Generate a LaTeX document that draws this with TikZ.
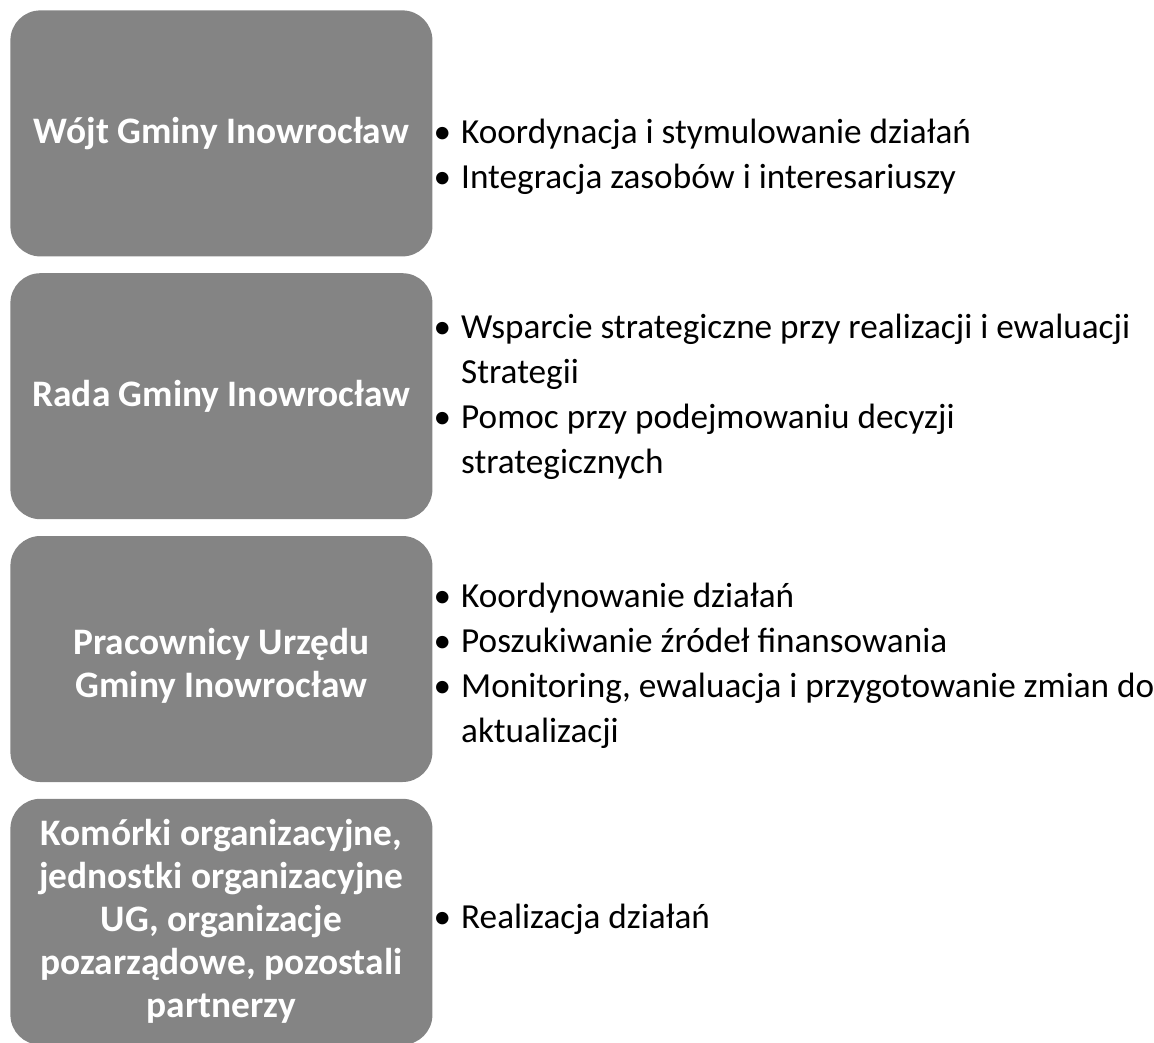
\documentclass[tikz,border=0pt]{standalone}
\usepackage{fontspec}
\setmainfont{Carlito}
\usepackage{enumitem}
\usetikzlibrary{positioning}

\definecolor{szary}{RGB}{132,132,132}
\tikzset{
  every node/.append style={execute at begin node=\spaceskip\fontdimen2\font\xspaceskip\fontdimen2\font\relax},
  blok/.style={fill=szary, rounded corners=15pt, minimum width=211pt, minimum height=123pt,
    text width=200pt, align=center, text=white, inner sep=0pt,
    font=\fontsize{18.7}{21.5}\selectfont\bfseries},
  opis/.style={anchor=west, text width=365pt, inner sep=0pt, align=left,
    font=\fontsize{17.6}{22.5}\selectfont}
}
\newcommand\punkty[1]{%
  \begin{itemize}[leftmargin=14pt,labelsep=5pt,label=\textbullet,
    itemsep=0pt,topsep=0pt,parsep=0pt,partopsep=0pt]#1\end{itemize}}

\begin{document}
\begin{tikzpicture}
\useasboundingbox (0,0) rectangle (577pt,-521pt);

% bloki po lewej
\node[blok, anchor=north west] (wojt) at (5pt,-5pt) {Wójt Gminy Inowrocław};
\node[blok, below=8pt of wojt] (rada) {Rada Gminy Inowrocław};
\node[blok, below=8pt of rada] (pracownicy) {\rule{0pt}{20pt}Pracownicy Urzędu\\Gminy Inowrocław};
\node[blok, below=8pt of pracownicy] (komorki) {Komórki organizacyjne,\\jednostki organizacyjne\\UG, organizacje\\pozarządowe, pozostali\\partnerzy};

% zadania po prawej
\node[opis, right=0pt of wojt, yshift=-6.5pt] (zadWojt) {\punkty{
  \item Koordynacja i stymulowanie działań
  \item Integracja zasobów i interesariuszy}};
\node[opis, right=0pt of rada, yshift=5pt] (zadRada) {\punkty{
  \item Wsparcie strategiczne przy realizacji i ewaluacji\\Strategii
  \item Pomoc przy podejmowaniu decyzji\\strategicznych}};
\node[opis, right=0pt of pracownicy, yshift=1.5pt] (zadPracownicy) {\punkty{
  \item Koordynowanie działań
  \item Poszukiwanie źródeł finansowania
  \item Monitoring, ewaluacja i przygotowanie zmian do\\aktualizacji}};
\node[opis, right=0pt of komorki, yshift=6.5pt] (zadKomorki) {\punkty{
  \item Realizacja działań}};
\end{tikzpicture}
\end{document}
